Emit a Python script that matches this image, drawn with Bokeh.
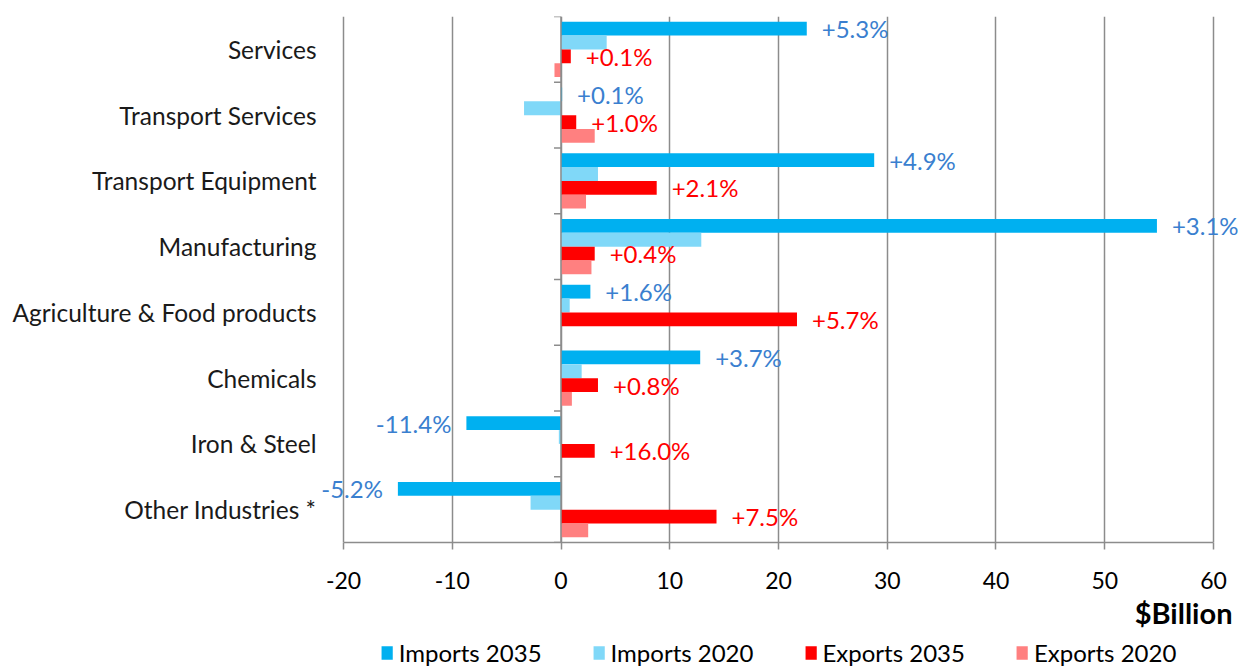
import numpy as np
from bokeh.plotting import figure
from bokeh.layouts import column
from bokeh.models import (ColumnDataSource, Range1d, FixedTicker, LabelSet,
                          Legend, LegendItem, Title, Span)
from bokeh.core.properties import value
from bokeh.transform import dodge
from bokeh.embed import file_html
from bokeh.resources import INLINE

categories = ["Services", "Transport Services", "Transport Equipment", "Manufacturing",
              "Agriculture & Food products", "Chemicals", "Iron & Steel", "Other Industries *"]
imports_2035 = [22.6, 0.1, 28.8, 54.8, 2.7, 12.8, -8.7, -15.0]
imports_2020 = [4.2, -3.4, 3.4, 12.9, 0.8, 1.9, -0.2, -2.8]
exports_2035 = [0.9, 1.4, 8.8, 3.1, 21.7, 3.4, 3.1, 14.3]
exports_2020 = [-0.6, 3.1, 2.3, 2.8, 0.0, 1.0, 0.0, 2.5]
imports_growth = ["+5.3%", "+0.1%", "+4.9%", "+3.1%", "+1.6%", "+3.7%", "-11.4%", "-5.2%"]
exports_growth = ["+0.1%", "+1.0%", "+2.1%", "+0.4%", "+5.7%", "+0.8%", "+16.0%", "+7.5%"]
series_names = ["Imports 2035", "Imports 2020", "Exports 2035", "Exports 2020"]
x_ticks = [-20, -10, 0, 10, 20, 30, 40, 50, 60]
x_tick_labels = ["-20", "-10", "0", "10", "20", "30", "40", "50", "60"]

FONT = "Lato"
GRID = "#8C8C8C"
COLORS = ["#00B0F0", "#80D8F8", "#FF0000", "#FF8080"]
BLUE_TXT = "#3A7FCF"
RED_TXT = "#FF0000"

W = 1238
H_MAIN = 631
H_LEG = 667 - H_MAIN
LEFT = 318

n = len(categories)
ypos = [n - 0.5 - i for i in range(n)]  # top category first

src = ColumnDataSource(dict(y=ypos, cat=categories, i35=imports_2035, i20=imports_2020,
                            e35=exports_2035, e20=exports_2020))

p = figure(width=W, height=H_MAIN, x_range=Range1d(-22.3, 62.3),
           y_range=Range1d(0, n), output_backend="svg", toolbar_location=None,
           min_border_left=LEFT, min_border_right=0, min_border_top=16, min_border_bottom=80)
p.outline_line_color = None

p.ygrid.visible = False
p.xgrid.ticker = FixedTicker(ticks=x_ticks)
p.xgrid.grid_line_color = GRID
p.xgrid.grid_line_width = 1.5

ax = p.xaxis[0]
ax.ticker = FixedTicker(ticks=x_ticks)
ax.bounds = (x_ticks[0], x_ticks[-1])
ax.major_label_overrides = {t: s for t, s in zip(x_ticks, x_tick_labels)}
ax.axis_line_color = GRID
ax.axis_line_width = 1.5
ax.major_tick_line_color = GRID
ax.major_tick_line_width = 1.5
ax.major_tick_out = 7
ax.major_tick_in = 0
ax.minor_tick_line_color = None
ax.major_label_standoff = 22
ax.major_label_text_font = FONT
ax.major_label_text_font_size = "23px"
ax.major_label_text_color = "#000000"

ay = p.yaxis[0]
ay.ticker = FixedTicker(ticks=ypos)
ay.major_label_overrides = {y: c for y, c in zip(ypos, categories)}
ay.axis_line_color = None
ay.major_tick_line_color = None
ay.minor_tick_line_color = None
ay.major_tick_out = 0
ay.major_tick_in = 0
ay.major_label_standoff = 2
ay.major_label_text_font = FONT
ay.major_label_text_font_size = "24.5px"
ay.major_label_text_color = "#1A1A1A"

# vertical axis line at zero with category-boundary ticks
p.add_layout(Span(location=0, dimension="height", line_color=GRID, line_width=1.5))
bounds = list(range(n + 1))
p.ray(x=[0] * len(bounds), y=bounds, length=7, length_units="screen", angle=np.pi,
      line_color=GRID, line_width=1.5)

bh = 0.21
offs = [0.315, 0.105, -0.105, -0.315]
cols = ["i35", "i20", "e35", "e20"]
for c, off, colr in zip(cols, offs, COLORS):
    p.hbar(y=dodge("y", off, range=p.y_range), left=0, right=c, height=bh, source=src,
           fill_color=colr, line_color=None)


def label_source(vals, texts, off):
    return ColumnDataSource(dict(
        x=vals, y=[y + off for y in ypos], text=texts,
        xoff=[15 if v >= 0 else -15 for v in vals],
        align=["left" if v >= 0 else "right" for v in vals]))


for vals, texts, off, col in [(imports_2035, imports_growth, offs[0], BLUE_TXT),
                              (exports_2035, exports_growth, offs[2], RED_TXT)]:
    ls = LabelSet(x="x", y="y", text="text", x_offset="xoff", text_align="align",
                  text_baseline="middle", source=label_source(vals, texts, off),
                  text_font=value(FONT), text_font_size=value("24px"), text_color=col)
    p.add_layout(ls)

p.add_layout(Title(text="$Billion", align="right", text_font=FONT, text_font_size="29px",
                   text_font_style="bold", text_color="#000000", standoff=3, offset=6), "below")

# legend strip
leg = figure(width=W, height=H_LEG, x_range=Range1d(0, 1), y_range=Range1d(0, 1),
             output_backend="svg", toolbar_location=None, x_axis_type=None, y_axis_type=None,
             min_border_left=LEFT, min_border_right=0, min_border_top=0, min_border_bottom=0)
leg.outline_line_color = None
leg.grid.visible = False
items = []
for name, colr in zip(series_names, COLORS):
    # proxy renderer placed outside the visible range; only its legend swatch shows
    r = leg.hbar(y=[-5], left=[0], right=[1], height=0.5, fill_color=colr, line_color=None)
    items.append(LegendItem(label=name, renderers=[r]))
legend = Legend(items=items, orientation="horizontal", location="bottom_center", glyph_width=14,
                glyph_height=17, label_standoff=5, spacing=50, padding=0, margin=0,
                border_line_color=None, background_fill_alpha=0, label_text_font=FONT,
                label_text_font_size="24px", label_text_color="#000000")
leg.add_layout(legend)

layout = column(p, leg, spacing=0)
open("out.html", "w").write(file_html(layout, INLINE))
